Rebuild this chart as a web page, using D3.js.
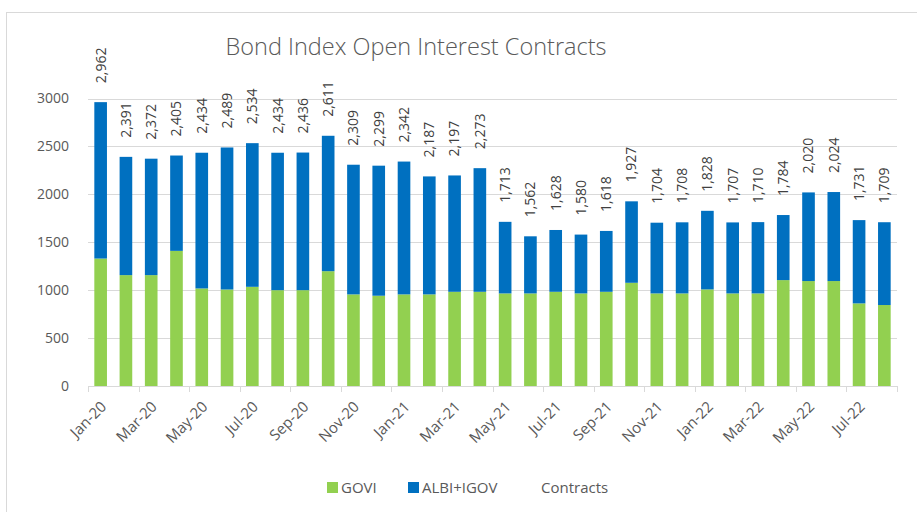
<!DOCTYPE html>
<html>
<head>
<meta charset="utf-8">
<script src="https://cdn.jsdelivr.net/npm/d3@7"></script>
<style>
  html, body { margin: 0; padding: 0; background: #fff; }
  svg { display: block; }
  text { font-family: "Open Sans", "Noto Sans", sans-serif; }
</style>
</head>
<body>
<svg id="chart" width="917" height="512"></svg>
<script>
// Monthly open interest, Jan-20 .. Aug-22
const months = ["Jan-20","Feb-20","Mar-20","Apr-20","May-20","Jun-20","Jul-20","Aug-20","Sep-20","Oct-20","Nov-20","Dec-20",
                "Jan-21","Feb-21","Mar-21","Apr-21","May-21","Jun-21","Jul-21","Aug-21","Sep-21","Oct-21","Nov-21","Dec-21",
                "Jan-22","Feb-22","Mar-22","Apr-22","May-22","Jun-22","Jul-22","Aug-22"];
const contracts = [2962,2391,2372,2405,2434,2489,2534,2434,2436,2611,2309,2299,
                   2342,2187,2197,2273,1713,1562,1628,1580,1618,1927,1704,1708,
                   1828,1707,1710,1784,2020,2024,1731,1709];
const govi = [1330,1157,1157,1410,1018,1007,1035,1000,1000,1198,956,942,
              956,956,983,983,966,966,983,966,983,1077,966,966,
              1008,966,966,1105,1095,1095,862,845];
// ALBI+IGOV makes up the rest of each month's total
const albiIgov = contracts.map((t, i) => t - govi[i]);
const yTicks = [0, 500, 1000, 1500, 2000, 2500, 3000];

const svg = d3.select("#chart");
const plotLeft = 88, plotRight = 897, plotTop = 98.5, plotBottom = 386;

// chart frame
svg.append("rect").attr("x", 6.5).attr("y", 12.5).attr("width", 930).attr("height", 520)
  .attr("fill", "none").attr("stroke", "#d9d9d9");

svg.append("text").attr("x", 416).attr("y", 55).attr("text-anchor", "middle")
  .attr("font-size", 23.5).attr("font-weight", 300).attr("fill", "#595959")
  .text("Bond Index Open Interest Contracts");

const x = d3.scaleBand().domain(months).range([plotLeft, plotRight]).paddingInner(0.5).paddingOuter(0.25);
const y = d3.scaleLinear().domain([0, 3000]).range([plotBottom, plotTop]);

// gridlines
svg.append("g").selectAll("line").data(yTicks.slice(1)).join("line")
  .attr("x1", plotLeft).attr("x2", plotRight)
  .attr("y1", d => Math.round(y(d)) + 0.5).attr("y2", d => Math.round(y(d)) + 0.5)
  .attr("stroke", "#d9d9d9");

// y tick labels
svg.append("g").selectAll("text").data(yTicks).join("text")
  .attr("x", 69).attr("y", d => y(d)).attr("dy", "0.35em").attr("text-anchor", "end")
  .attr("font-size", 14).attr("fill", "#595959").text(d => d);

// stacked bars
const stacked = d3.stack().keys(["govi", "albi"])(months.map((m, i) => ({ m, govi: govi[i], albi: albiIgov[i] })));
const colors = { govi: "#92d050", albi: "#0070c0" };
svg.append("g").selectAll("g").data(stacked).join("g")
  .attr("fill", s => colors[s.key])
  .selectAll("rect").data(s => s).join("rect")
  .attr("x", d => x(d.data.m)).attr("width", x.bandwidth())
  .attr("y", d => y(d[1])).attr("height", d => y(d[0]) - y(d[1]));

// category axis line and tick marks every two months
svg.append("line").attr("x1", plotLeft).attr("x2", plotRight).attr("y1", plotBottom + 0.5).attr("y2", plotBottom + 0.5)
  .attr("stroke", "#d9d9d9");
const tickPos = d3.range(0, months.length + 1, 2).map(i => plotLeft + i * (plotRight - plotLeft) / months.length);
svg.append("g").selectAll("line").data(tickPos).join("line")
  .attr("x1", d => Math.round(d) + 0.5).attr("x2", d => Math.round(d) + 0.5)
  .attr("y1", plotBottom).attr("y2", plotBottom + 6).attr("stroke", "#d9d9d9");

// rotated month labels
svg.append("g").selectAll("text").data(months.filter((m, i) => i % 2 === 0)).join("text")
  .attr("transform", m => `translate(${x(m) + x.bandwidth() / 2 + 3},${plotBottom + 18}) rotate(-45)`)
  .attr("text-anchor", "end").attr("dy", "0.35em")
  .attr("font-size", 15).attr("fill", "#595959").text(m => m);

// total labels above each bar
const fmt = d3.format(",");
svg.append("g").selectAll("text").data(months).join("text")
  .attr("transform", (m, i) => `translate(${x(m) + x.bandwidth() / 2},${y(contracts[i]) - 19}) rotate(-90)`)
  .attr("dy", "0.35em").attr("text-anchor", "start")
  .attr("font-size", 14).attr("fill", "#404040").text((m, i) => fmt(contracts[i]));

// legend
const legend = [
  { label: "GOVI", color: colors.govi, x: 327 },
  { label: "ALBI+IGOV", color: colors.albi, x: 408 },
  { label: "Contracts", color: null, x: 527 }
];
const lg = svg.append("g");
legend.forEach(l => {
  if (l.color) lg.append("rect").attr("x", l.x).attr("y", 482).attr("width", 11).attr("height", 11).attr("fill", l.color);
  lg.append("text").attr("x", l.x + 14).attr("y", 493).attr("font-size", 15).attr("fill", "#595959").text(l.label);
});
</script>
</body>
</html>
